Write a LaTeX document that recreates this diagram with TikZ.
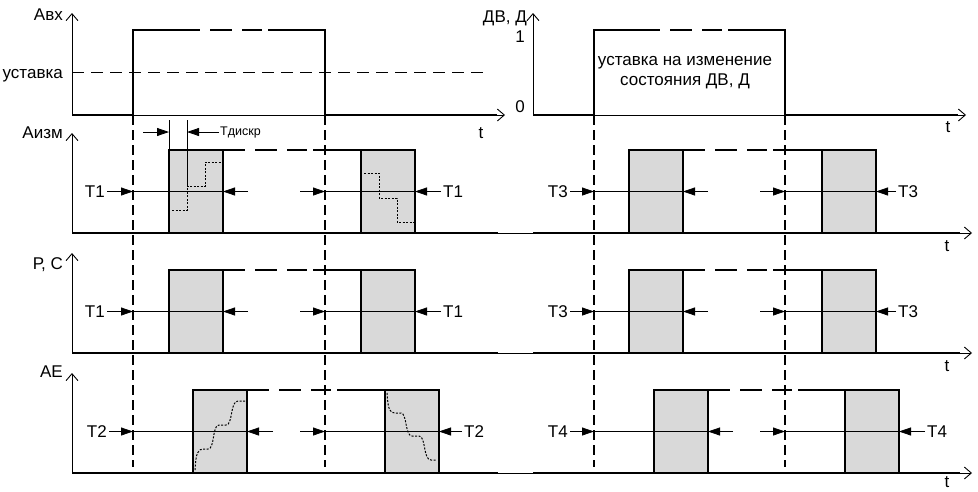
\documentclass[tikz,border=0pt]{standalone}
\usepackage{fontspec}
\setmainfont{Liberation Sans}
\usetikzlibrary{arrows.meta}

\tikzset{
  axis/.style={line width=0.9pt, -{Straight Barb[length=7pt,width=12pt]}},
  sig/.style={line width=2.4pt},
  topdash/.style={line width=2.4pt, dash pattern=on 22pt off 10pt on 22pt off 10pt on 20pt off 6pt on 900pt},
  guide/.style={line width=1.1pt, dash pattern=on 10pt off 5pt},
  thr/.style={line width=1pt, dash pattern=on 12pt off 7pt},
  pulse/.style={draw, line width=2.4pt, fill=black!15, inner sep=0pt, outer sep=0pt,
    minimum width=54pt, minimum height=83pt, anchor=south west},
  span/.style={line width=0.8pt},
  tip/.style={line width=0.8pt, -{Triangle[length=12pt,width=8pt]}},
  stair/.style={line width=1pt, dash pattern=on 2pt off 1.5pt},
  lbl/.style={font=\fontsize{17}{20}\selectfont, inner sep=2pt},
  small/.style={font=\fontsize{12.5}{14}\selectfont, inner sep=1pt},
}

\begin{document}
\begin{tikzpicture}[x=1pt, y=-1pt]
\useasboundingbox (0,0) rectangle (978,491);
\coordinate (g1) at (133,115);
\coordinate (g2) at (325,115);
\coordinate (g3) at (594,115);
\coordinate (g4) at (785,115);
\draw[guide] (g1) -- (133,467);
\draw[guide] (g2) -- (325,467);
\draw[guide] (g3) -- (594,467);
\draw[guide] (g4) -- (785,467);

\draw[axis] (72,115) -- (72,13);
\draw[axis] (72,115) -- (505,115);
\draw[axis] (533,115) -- (533,13);
\draw[axis] (533,115) -- (966,115);
\draw[axis] (72,233) -- (72,133);
\draw[axis] (72,233) -- (972,233);
\draw[axis] (72,353) -- (72,253);
\draw[axis] (72,353) -- (972,353);
\draw[axis] (72,473) -- (72,373);
\draw[axis] (72,473) -- (972,473);

\node[lbl, anchor=base east] (avx) at (65,20) {Авх};
\node[lbl, anchor=base east] (ust) at (65,78) {уставка};
\node[lbl, anchor=base] (ta) at (481,138) {t};
\node[lbl, anchor=base east] (dvd) at (529,22) {ДВ, Д};
\node[lbl, anchor=base] (one) at (520,42) {1};
\node[lbl, anchor=base] (zero) at (520,112) {0};
\node[lbl, anchor=base] (tb) at (948,132) {t};
\node[lbl, anchor=base east] (aizm) at (65,138) {Аизм};
\node[lbl, anchor=base] (tc) at (947,251) {t};
\node[lbl, anchor=base east] (rc) at (65,269) {Р, С};
\node[lbl, anchor=base] (td3) at (947,371) {t};
\node[lbl, anchor=base east] (ae) at (65,377) {AE};
\node[lbl, anchor=base] (te) at (947,487) {t};
\node[lbl, align=center] (note) at (685,73) {уставка на изменение\\состояния ДВ, Д};

\draw[thr] (72,72) -- (485,72);
\draw[sig] (72,115) -- (g1) -- (133,30) -- (178,30);
\draw[topdash] (178,30) -- (325,30) -- (g2) -- (497,115);
\draw[sig] (533,115) -- (g3) -- (594,30) -- (638,30);
\draw[topdash] (638,30) -- (785,30) -- (g4) -- (958,115);

\draw[sig] (72,233) -- (498,233);
\draw[sig] (533,233) -- (960,233);
\draw[sig] (72,353) -- (498,353);
\draw[sig] (533,353) -- (960,353);
\draw[sig] (72,473) -- (498,473);
\draw[sig] (533,473) -- (960,473);

\node[pulse] (p2a) at (169,233) {};
\node[pulse] (p2b) at (361,233) {};
\node[pulse] (p2c) at (629,233) {};
\node[pulse] (p2d) at (822,233) {};
\node[pulse] (p3a) at (169,353) {};
\node[pulse] (p3b) at (361,353) {};
\node[pulse] (p3c) at (629,353) {};
\node[pulse] (p3d) at (822,353) {};
\node[pulse] (p4a) at (193,473) {};
\node[pulse] (p4b) at (385,473) {};
\node[pulse] (p4c) at (654,473) {};
\node[pulse] (p4d) at (845,473) {};
\draw[topdash] (p2a.north east) -- (p2b.north west);
\draw[topdash] (p2c.north east) -- (p2d.north west);
\draw[topdash] (p3a.north east) -- (p3b.north west);
\draw[topdash] (p3c.north east) -- (p3d.north west);
\draw[topdash] (p4a.north east) -- (p4b.north west);
\draw[topdash] (p4c.north east) -- (p4d.north west);

\draw[stair] (172,210) -- (187,210) -- (187,186) -- (205,186) -- (205,162) -- (221,162);
\draw[stair] (364,173) -- (379,173) -- (379,198) -- (397,198) -- (397,222) -- (414,222);
\draw[stair] (195,470) .. controls (196,452) and (198,449) .. (204,449) -- (208,449)
  .. controls (215,449) and (212,425) .. (219,425) -- (226,425)
  .. controls (233,425) and (230,401) .. (238,401) -- (245,401);
\draw[stair] (387,393) .. controls (388,410) and (390,413) .. (395,413) -- (401,413)
  .. controls (407,413) and (405,436) .. (412,436) -- (419,436)
  .. controls (426,436) and (423,460) .. (431,460) -- (437,460);

\coordinate (d1) at (169,120);
\coordinate (d2) at (187,120);
\draw[span] (d1) -- (p2a.north west);
\draw[span] (d2) -- (187,186);
\node[small, anchor=west] (tdis) at (219,132) {Тдискр};
\draw[tip] (143,132) -- (d1 |- tdis.west);
\draw[tip] (tdis.west) -- (d2 |- tdis.west);

\node[lbl, anchor=east] (t1a) at (107,191.5) {T1};
\draw[tip] (t1a.east) -- (t1a -| g1);
\draw[span] (t1a -| g1) -- (p2a.east);
\draw[tip] ([xshift=25pt]p2a.east) -- (p2a.east);
\coordinate (m2a) at (p2a.east -| g2);
\draw[tip] ([xshift=-25pt]m2a) -- (m2a);
\draw[span] (m2a) -- (p2b.east);
\node[lbl, anchor=west] (t1b) at ([xshift=26pt]p2b.east) {T1};
\draw[tip] (t1b.west) -- (p2b.east);

\node[lbl, anchor=east] (t3a) at (570,191.5) {T3};
\draw[tip] (t3a.east) -- (t3a -| g3);
\draw[span] (t3a -| g3) -- (p2c.east);
\draw[tip] ([xshift=25pt]p2c.east) -- (p2c.east);
\coordinate (m2c) at (p2c.east -| g4);
\draw[tip] ([xshift=-25pt]m2c) -- (m2c);
\draw[span] (m2c) -- (p2d.east);
\node[lbl, anchor=west] (t3b) at ([xshift=20pt]p2d.east) {T3};
\draw[tip] (t3b.west) -- (p2d.east);

\node[lbl, anchor=east] (t1c) at (107,311.5) {T1};
\draw[tip] (t1c.east) -- (t1c -| g1);
\draw[span] (t1c -| g1) -- (p3a.east);
\draw[tip] ([xshift=25pt]p3a.east) -- (p3a.east);
\coordinate (m3a) at (p3a.east -| g2);
\draw[tip] ([xshift=-25pt]m3a) -- (m3a);
\draw[span] (m3a) -- (p3b.east);
\node[lbl, anchor=west] (t1d) at ([xshift=26pt]p3b.east) {T1};
\draw[tip] (t1d.west) -- (p3b.east);

\node[lbl, anchor=east] (t3c) at (570,311.5) {T3};
\draw[tip] (t3c.east) -- (t3c -| g3);
\draw[span] (t3c -| g3) -- (p3c.east);
\draw[tip] ([xshift=25pt]p3c.east) -- (p3c.east);
\coordinate (m3c) at (p3c.east -| g4);
\draw[tip] ([xshift=-25pt]m3c) -- (m3c);
\draw[span] (m3c) -- (p3d.east);
\node[lbl, anchor=west] (t3d) at ([xshift=20pt]p3d.east) {T3};
\draw[tip] (t3d.west) -- (p3d.east);

\node[lbl, anchor=east] (t2a) at (109,431.5) {T2};
\draw[tip] (t2a.east) -- (t2a -| g1);
\draw[span] (t2a -| g1) -- (p4a.east);
\draw[tip] ([xshift=26pt]p4a.east) -- (p4a.east);
\coordinate (m4a) at (p4a.east -| g2);
\draw[tip] ([xshift=-25pt]m4a) -- (m4a);
\draw[span] (m4a) -- (p4b.east);
\node[lbl, anchor=west] (t2b) at ([xshift=23pt]p4b.east) {T2};
\draw[tip] (t2b.west) -- (p4b.east);

\node[lbl, anchor=east] (t4a) at (570,431.5) {T4};
\draw[tip] (t4a.east) -- (t4a -| g3);
\draw[span] (t4a -| g3) -- (p4c.east);
\draw[tip] ([xshift=25pt]p4c.east) -- (p4c.east);
\coordinate (m4c) at (p4c.east -| g4);
\draw[tip] ([xshift=-25pt]m4c) -- (m4c);
\draw[span] (m4c) -- (p4d.east);
\node[lbl, anchor=west] (t4b) at ([xshift=26pt]p4d.east) {T4};
\draw[tip] (t4b.west) -- (p4d.east);
\end{tikzpicture}
\end{document}
